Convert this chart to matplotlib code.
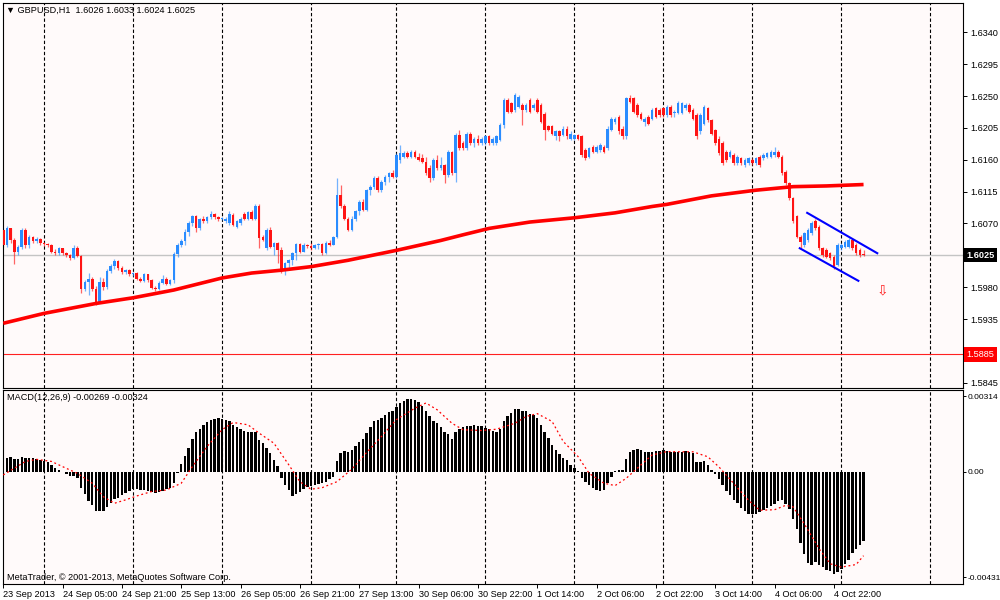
import matplotlib
matplotlib.use("Agg")
import matplotlib.pyplot as plt
import numpy as np

# GBPUSD H1 candles
opens = [
    1.6061, 1.6039, 1.6063, 1.6046, 1.6030, 1.6037, 1.6061, 1.6039, 1.6051, 1.6045,
    1.6048, 1.6042, 1.6041, 1.6040, 1.6030, 1.6028, 1.6035, 1.6028, 1.6025, 1.6021,
    1.6036, 1.6024, 1.5978, 1.5987, 1.5992, 1.5978, 1.5958, 1.5988, 1.5980, 1.6003,
    1.6010, 1.6017, 1.6007, 1.6001, 1.6004, 1.5998, 1.6000, 1.5992, 1.5989, 1.5998,
    1.5990, 1.5979, 1.5977, 1.5986, 1.5992, 1.5985, 1.5990, 1.6027, 1.6040, 1.6045,
    1.6058, 1.6070, 1.6080, 1.6063, 1.6076, 1.6073, 1.6079, 1.6083, 1.6079, 1.6076,
    1.6073, 1.6070, 1.6082, 1.6065, 1.6070, 1.6083, 1.6077, 1.6086, 1.6077, 1.6095,
    1.6051, 1.6035, 1.6061, 1.6037, 1.6042, 1.6033, 1.6004, 1.6014, 1.6018, 1.6028,
    1.6041, 1.6030, 1.6040, 1.6038, 1.6035, 1.6040, 1.6041, 1.6028, 1.6043, 1.6040,
    1.6051, 1.6110, 1.6094, 1.6077, 1.6061, 1.6077, 1.6087, 1.6101, 1.6089, 1.6117,
    1.6122, 1.6134, 1.6117, 1.6129, 1.6136, 1.6141, 1.6136, 1.6160, 1.6164, 1.6169,
    1.6164, 1.6171, 1.6164, 1.6163, 1.6157, 1.6148, 1.6134, 1.6160, 1.6148, 1.6152,
    1.6138, 1.6171, 1.6141, 1.6195, 1.6183, 1.6176, 1.6197, 1.6183, 1.6190, 1.6183,
    1.6184, 1.6193, 1.6183, 1.6184, 1.6188, 1.6209, 1.6244, 1.6240, 1.6230, 1.6235,
    1.6237, 1.6230, 1.6244, 1.6233, 1.6244, 1.6237, 1.6225, 1.6207, 1.6207, 1.6193,
    1.6200, 1.6195, 1.6204, 1.6190, 1.6190, 1.6195, 1.6193, 1.6174, 1.6164, 1.6178,
    1.6171, 1.6174, 1.6178, 1.6176, 1.6202, 1.6214, 1.6221, 1.6204, 1.6193, 1.6247,
    1.6247, 1.6237, 1.6225, 1.6214, 1.6221, 1.6218,
    1.6233, 1.6230, 1.6233, 1.6223, 1.6235, 1.6226, 1.6226, 1.6226, 1.6233, 1.6237,
    1.6230, 1.6223, 1.6200, 1.6211, 1.6233, 1.6216, 1.6202, 1.6190, 1.6183, 1.6171,
    1.6164, 1.6167, 1.6155, 1.6162, 1.6153, 1.6155, 1.6160, 1.6155, 1.6164, 1.6162,
    1.6164, 1.6164, 1.6167, 1.6171, 1.6164, 1.6143, 1.6127, 1.6106, 1.6080, 1.6051,
    1.6040, 1.6047, 1.6056, 1.6073, 1.6065, 1.6035, 1.6033, 1.6028, 1.6023, 1.6012,
    1.6035, 1.6037, 1.6037, 1.6047, 1.6040, 1.6033, 1.6026,
]
highs = [
    1.6063, 1.6066, 1.6064, 1.6050, 1.6040, 1.6064, 1.6063, 1.6054, 1.6053, 1.6051,
    1.6049, 1.6044, 1.6043, 1.6041, 1.6034, 1.6037, 1.6036, 1.6030, 1.6027, 1.6039,
    1.6038, 1.6026, 1.5990, 1.6000, 1.5994, 1.5982, 1.5995, 1.5993, 1.6006, 1.6013,
    1.6020, 1.6019, 1.6010, 1.6006, 1.6005, 1.6002, 1.6001, 1.5994, 1.6000, 1.5999,
    1.5991, 1.5982, 1.5989, 1.5997, 1.5994, 1.5992, 1.6030, 1.6042, 1.6048, 1.6062,
    1.6073, 1.6082, 1.6082, 1.6078, 1.6080, 1.6081, 1.6088, 1.6085, 1.6080, 1.6079,
    1.6079, 1.6087, 1.6085, 1.6075, 1.6079, 1.6086, 1.6088, 1.6089, 1.6097, 1.6098,
    1.6054, 1.6063, 1.6065, 1.6044, 1.6044, 1.6037, 1.6016, 1.6020, 1.6030, 1.6043,
    1.6043, 1.6042, 1.6041, 1.6042, 1.6041, 1.6043, 1.6042, 1.6045, 1.6047, 1.6053,
    1.6134, 1.6124, 1.6098, 1.6079, 1.6080, 1.6089, 1.6103, 1.6104, 1.6119, 1.6124,
    1.6137, 1.6137, 1.6131, 1.6138, 1.6143, 1.6146, 1.6170, 1.6181, 1.6172, 1.6172,
    1.6174, 1.6174, 1.6169, 1.6168, 1.6164, 1.6152, 1.6162, 1.6166, 1.6164, 1.6154,
    1.6174, 1.6173, 1.6198, 1.6202, 1.6186, 1.6199, 1.6199, 1.6192, 1.6195, 1.6192,
    1.6195, 1.6195, 1.6192, 1.6195, 1.6212, 1.6247, 1.6247, 1.6242, 1.6254, 1.6251,
    1.6240, 1.6240, 1.6247, 1.6240, 1.6247, 1.6240, 1.6228, 1.6209, 1.6209, 1.6202,
    1.6202, 1.6207, 1.6207, 1.6200, 1.6197, 1.6197, 1.6195, 1.6176, 1.6178, 1.6181,
    1.6181, 1.6183, 1.6181, 1.6207, 1.6221, 1.6221, 1.6223, 1.6207, 1.6249, 1.6251,
    1.6249, 1.6240, 1.6228, 1.6221, 1.6223, 1.6233,
    1.6235, 1.6233, 1.6235, 1.6237, 1.6238, 1.6230, 1.6243, 1.6242, 1.6240, 1.6240,
    1.6233, 1.6226, 1.6226, 1.6237, 1.6235, 1.6218, 1.6204, 1.6193, 1.6186, 1.6174,
    1.6174, 1.6169, 1.6167, 1.6164, 1.6162, 1.6164, 1.6162, 1.6164, 1.6167, 1.6169,
    1.6171, 1.6174, 1.6178, 1.6174, 1.6167, 1.6146, 1.6129, 1.6108, 1.6082, 1.6054,
    1.6058, 1.6063, 1.6073, 1.6077, 1.6068, 1.6037, 1.6035, 1.6030, 1.6025, 1.6042,
    1.6042, 1.6047, 1.6049, 1.6049, 1.6042, 1.6035, 1.6033,
]
lows = [
    1.6037, 1.6037, 1.6042, 1.6013, 1.6026, 1.6034, 1.6035, 1.6036, 1.6042, 1.6043,
    1.6040, 1.6038, 1.6037, 1.6028, 1.6025, 1.6026, 1.6026, 1.6023, 1.6019, 1.6020,
    1.6022, 1.5972, 1.5975, 1.5969, 1.5974, 1.5955, 1.5957, 1.5976, 1.5978, 1.6000,
    1.6005, 1.6004, 1.5998, 1.5998, 1.5996, 1.5996, 1.5990, 1.5987, 1.5988, 1.5988,
    1.5977, 1.5975, 1.5976, 1.5985, 1.5983, 1.5983, 1.5986, 1.6022, 1.6037, 1.6040,
    1.6052, 1.6066, 1.6058, 1.6061, 1.6071, 1.6071, 1.6076, 1.6077, 1.6074, 1.6075,
    1.6071, 1.6068, 1.6066, 1.6063, 1.6068, 1.6075, 1.6075, 1.6075, 1.6075, 1.6035,
    1.6045, 1.6033, 1.6035, 1.6025, 1.6014, 1.6000, 1.5997, 1.6007, 1.6011, 1.6019,
    1.6028, 1.6029, 1.6035, 1.6033, 1.6034, 1.6034, 1.6026, 1.6027, 1.6038, 1.6039,
    1.6049, 1.6092, 1.6075, 1.6059, 1.6059, 1.6073, 1.6082, 1.6087, 1.6087, 1.6110,
    1.6118, 1.6115, 1.6115, 1.6125, 1.6129, 1.6134, 1.6134, 1.6155, 1.6162, 1.6162,
    1.6162, 1.6162, 1.6158, 1.6155, 1.6139, 1.6129, 1.6132, 1.6146, 1.6146, 1.6127,
    1.6136, 1.6139, 1.6129, 1.6174, 1.6174, 1.6174, 1.6181, 1.6178, 1.6181, 1.6181,
    1.6181, 1.6181, 1.6181, 1.6181, 1.6186, 1.6205, 1.6226, 1.6226, 1.6228, 1.6233,
    1.6209, 1.6228, 1.6226, 1.6230, 1.6226, 1.6212, 1.6188, 1.6200, 1.6195, 1.6188,
    1.6186, 1.6193, 1.6190, 1.6188, 1.6188, 1.6188, 1.6164, 1.6160, 1.6162, 1.6169,
    1.6169, 1.6171, 1.6169, 1.6174, 1.6200, 1.6211, 1.6197, 1.6190, 1.6190, 1.6240,
    1.6226, 1.6221, 1.6216, 1.6207, 1.6209, 1.6216,
    1.6219, 1.6221, 1.6221, 1.6221, 1.6221, 1.6221, 1.6224, 1.6224, 1.6230, 1.6226,
    1.6216, 1.6190, 1.6197, 1.6209, 1.6214, 1.6195, 1.6181, 1.6167, 1.6153, 1.6157,
    1.6162, 1.6153, 1.6153, 1.6153, 1.6150, 1.6153, 1.6153, 1.6153, 1.6150, 1.6160,
    1.6162, 1.6162, 1.6164, 1.6162, 1.6138, 1.6124, 1.6103, 1.6070, 1.6049, 1.6035,
    1.6037, 1.6044, 1.6054, 1.6061, 1.6033, 1.6023, 1.6021, 1.6018, 1.6005, 1.6010,
    1.6033, 1.6035, 1.6035, 1.6033, 1.6026, 1.6023, 1.6024,
]
closes = [
    1.6039, 1.6063, 1.6046, 1.6030, 1.6037, 1.6061, 1.6039, 1.6051, 1.6045, 1.6048,
    1.6042, 1.6041, 1.6040, 1.6030, 1.6028, 1.6035, 1.6028, 1.6025, 1.6021, 1.6036,
    1.6024, 1.5978, 1.5987, 1.5992, 1.5978, 1.5958, 1.5988, 1.5980, 1.6003, 1.6010,
    1.6017, 1.6007, 1.6001, 1.6004, 1.5998, 1.6000, 1.5992, 1.5989, 1.5998, 1.5990,
    1.5979, 1.5977, 1.5986, 1.5992, 1.5985, 1.5990, 1.6027, 1.6040, 1.6045, 1.6058,
    1.6070, 1.6080, 1.6063, 1.6076, 1.6073, 1.6079, 1.6083, 1.6079, 1.6076, 1.6077,
    1.6077, 1.6084, 1.6068, 1.6073, 1.6077, 1.6077, 1.6086, 1.6077, 1.6095, 1.6049,
    1.6047, 1.6061, 1.6037, 1.6042, 1.6033, 1.6004, 1.6014, 1.6018, 1.6028, 1.6041,
    1.6030, 1.6040, 1.6038, 1.6035, 1.6040, 1.6041, 1.6028, 1.6043, 1.6040, 1.6051,
    1.6110, 1.6094, 1.6077, 1.6061, 1.6077, 1.6087, 1.6101, 1.6089, 1.6117, 1.6122,
    1.6134, 1.6117, 1.6129, 1.6136, 1.6141, 1.6136, 1.6167, 1.6169, 1.6169, 1.6164,
    1.6171, 1.6164, 1.6160, 1.6157, 1.6141, 1.6134, 1.6160, 1.6148, 1.6152, 1.6138,
    1.6171, 1.6141, 1.6195, 1.6176, 1.6176, 1.6197, 1.6183, 1.6190, 1.6183, 1.6190,
    1.6193, 1.6183, 1.6190, 1.6193, 1.6209, 1.6244, 1.6228, 1.6228, 1.6251, 1.6249,
    1.6230, 1.6237, 1.6228, 1.6237, 1.6228, 1.6214, 1.6202, 1.6202, 1.6197, 1.6200,
    1.6193, 1.6204, 1.6193, 1.6197, 1.6195, 1.6190, 1.6167, 1.6162, 1.6176, 1.6171,
    1.6178, 1.6181, 1.6171, 1.6204, 1.6218, 1.6218, 1.6200, 1.6193, 1.6247, 1.6242,
    1.6228, 1.6223, 1.6218, 1.6218, 1.6211, 1.6230,
    1.6221, 1.6223, 1.6223, 1.6235, 1.6223, 1.6228, 1.6240, 1.6240, 1.6237, 1.6228,
    1.6218, 1.6193, 1.6223, 1.6235, 1.6216, 1.6197, 1.6183, 1.6169, 1.6155, 1.6160,
    1.6171, 1.6155, 1.6164, 1.6155, 1.6160, 1.6162, 1.6155, 1.6162, 1.6153, 1.6167,
    1.6169, 1.6171, 1.6171, 1.6164, 1.6141, 1.6127, 1.6106, 1.6073, 1.6051, 1.6044,
    1.6056, 1.6061, 1.6070, 1.6063, 1.6035, 1.6025, 1.6023, 1.6021, 1.6010, 1.6040,
    1.6040, 1.6044, 1.6047, 1.6035, 1.6028, 1.6025, 1.6025,
]

# moving average (red thick line), sampled along the bars
ma_bars = [0, 11, 25, 35, 46, 59, 67, 75, 83, 93, 106, 118, 124, 131, 142,
           154, 165, 175, 179, 191, 203, 213, 222, 232]
ma_vals = [1.5929, 1.5943, 1.5957, 1.5965, 1.5976, 1.5993, 1.6000, 1.6004,
           1.6009, 1.6018, 1.6032, 1.6046, 1.6054, 1.6063, 1.6072, 1.6078,
           1.6085, 1.6094, 1.6097, 1.6109, 1.6117, 1.6122, 1.6123, 1.6125]

# MACD(12,26,9) histogram, one value per bar
macd_hist = [
    0.00032, 0.00051, 0.00055, 0.00047, 0.00047, 0.00055, 0.00054, 0.00053, 0.00053, 0.00049,
    0.00045, 0.00042, 0.00035, 0.00026, 0.00013, 0.00007, -0.00003, -0.00009, -0.00019, -0.00017,
    -0.00026, -0.00064, -0.00086, -0.00112, -0.00129, -0.00151, -0.00151, -0.00151, -0.00135, -0.00120,
    -0.00107, -0.00100, -0.00091, -0.00081, -0.00073, -0.00068, -0.00068, -0.00071, -0.00071, -0.00073,
    -0.00077, -0.00081, -0.00077, -0.00073, -0.00068, -0.00064, -0.00045, -0.00007, 0.00028, 0.00058,
    0.00090, 0.00125, 0.00151, 0.00163, 0.00180, 0.00189, 0.00197, 0.00203, 0.00205, 0.00201,
    0.00197, 0.00193, 0.00181, 0.00170, 0.00164, 0.00158, 0.00154, 0.00154, 0.00151, 0.00122,
    0.00109, 0.00090, 0.00071, 0.00045, 0.00022, -0.00026, -0.00051, -0.00071, -0.00094, -0.00086,
    -0.00077, -0.00067, -0.00058, -0.00054, -0.00051, -0.00047, -0.00045, -0.00039, -0.00030, -0.00022,
    0.00042, 0.00073, 0.00080, 0.00074, 0.00084, 0.00097, 0.00112, 0.00125, 0.00148, 0.00170,
    0.00193, 0.00200, 0.00206, 0.00219, 0.00229, 0.00234, 0.00248, 0.00264, 0.00273, 0.00279,
    0.00281, 0.00277, 0.00266, 0.00254, 0.00235, 0.00212, 0.00193, 0.00186, 0.00170, 0.00151,
    0.00144, 0.00125, 0.00154, 0.00163, 0.00171, 0.00176, 0.00176, 0.00179, 0.00174, 0.00176,
    0.00167, 0.00163, 0.00157, 0.00151, 0.00163, 0.00193, 0.00215, 0.00225, 0.00240, 0.00240,
    0.00234, 0.00232, 0.00221, 0.00216, 0.00206, 0.00180, 0.00151, 0.00129, 0.00103, 0.00084,
    0.00068, 0.00054, 0.00045, 0.00026, 0.00013, 0.00003, -0.00026, -0.00039, -0.00051, -0.00064,
    -0.00071, -0.00073, -0.00071, -0.00045, -0.00022, 0.00004, 0.00007, 0.00007, 0.00047, 0.00077,
    0.00084, 0.00086, 0.00084, 0.00077, 0.00077, 0.00077, 0.00080, 0.00081, 0.00082, 0.00080,
    0.00076, 0.00076, 0.00076, 0.00076, 0.00078, 0.00076, 0.00072, 0.00037, 0.00037, 0.00041,
    0.00027, 0.00005, -0.00008, -0.00027, -0.00053, -0.00074, -0.00091, -0.00108, -0.00121, -0.00139,
    -0.00152, -0.00165, -0.00165, -0.00162, -0.00156, -0.00147, -0.00139, -0.00134, -0.00124, -0.00115,
    -0.00111, -0.00124, -0.00143, -0.00181, -0.00220, -0.00275, -0.00319, -0.00352, -0.00358, -0.00349,
    -0.00358, -0.00368, -0.00378, -0.00381, -0.00394, -0.00387, -0.00374, -0.00355, -0.00340, -0.00314,
    -0.00297, -0.00284, -0.00269,
]
# signal line (red dotted), sampled
sig_bars = [0, 3, 6, 9, 13, 16, 20, 24, 27, 30, 33, 36, 40, 44, 48, 51, 55, 59,
            62, 66, 69, 73, 77, 80, 83, 86, 90, 94, 97, 102, 106, 111, 114, 117,
            121, 124, 129, 133, 138, 141, 144, 148, 151, 155, 158, 162, 165, 168,
            172, 175, 179, 183, 186, 190, 193, 197, 201, 204, 208, 211, 213, 216,
            220, 223, 226, 230, 232]
sig_vals = [-0.00013, 0.00013, 0.00039, 0.00047, 0.00039, 0.00019, -0.00007,
            -0.00045, -0.00097, -0.00122, -0.00109, -0.00094, -0.00077, -0.00071,
            -0.00045, 0.00019, 0.00097, 0.00161, 0.00189, 0.00180, 0.00148,
            0.00109, 0.00026, -0.00039, -0.00068, -0.00062, -0.00039, 0.00009,
            0.00058, 0.00135, 0.00200, 0.00244, 0.00264, 0.00238, 0.00186,
            0.00161, 0.00158, 0.00163, 0.00186, 0.00212, 0.00223, 0.00193,
            0.00116, 0.00058, -0.00007, -0.00045, -0.00054, -0.00026, 0.00026,
            0.00064, 0.00077, 0.00076, 0.00076, 0.00057, 0.00018, -0.00046,
            -0.00111, -0.00149, -0.00147, -0.00130, -0.00136, -0.00201, -0.00297,
            -0.00355, -0.00368, -0.00358, -0.00324]

date_labels = ["23 Sep 2013", "24 Sep 05:00", "24 Sep 21:00", "25 Sep 13:00",
               "26 Sep 05:00", "26 Sep 21:00", "27 Sep 13:00", "30 Sep 06:00",
               "30 Sep 22:00", "1 Oct 14:00", "2 Oct 06:00", "2 Oct 22:00",
               "3 Oct 14:00", "4 Oct 06:00", "4 Oct 22:00"]
label_step = 16
day_breaks = [11, 35, 59, 83, 106, 130, 154, 178, 202, 226, 250]
# 1.6025 and 1.5890 sit under the price boxes, so they carry no label
price_ticks = [1.6340, 1.6295, 1.6250, 1.6205, 1.6160, 1.6115, 1.6070,
               1.5980, 1.5935, 1.5845]
support_level = 1.5885
channel_upper = ([216.8, 235.7], [1.6085, 1.6028])
channel_lower = ([214.8, 230.6], [1.6035, 1.5989])
arrow_pos = (237.1, 1.5975)
macd_lim = (-0.00431, 0.00314)
price_lim = (1.58376, 1.63814)

plt.rcParams['font.family'] = ['Liberation Sans', 'DejaVu Sans']
FS = 6.6
BULL, BEAR = "#2a8cff", "#ff1414"
BG = "#fffafa"

W, H = 1000, 600


def px_box(x0, y0, x1, y1):
    return [x0 / W, 1 - y1 / H, (x1 - x0) / W, (y1 - y0) / H]


fig = plt.figure(figsize=(10, 6), dpi=100)
fig.patch.set_facecolor("white")
ax = fig.add_axes(px_box(2.5, 3, 963.3, 388))
ax2 = fig.add_axes(px_box(2.5, 390, 963.3, 583.5), sharex=ax)

o = np.array(opens); h = np.array(highs); l = np.array(lows); c = np.array(closes)
x = np.arange(len(c))
cols = np.where(c >= o, BULL, BEAR)

for a in (ax, ax2):
    a.set_facecolor(BG)
    for s in a.spines.values():
        s.set_color("black"); s.set_linewidth(0.8)
    for b in day_breaks:
        a.axvline(b, color="black", lw=0.8, ls=(0, (3, 2)), zorder=1)

# price window
ax.axhline(c[-1], color="#c4c4c4", lw=1.0, zorder=1)
ax.axhline(support_level, color="#ff2020", lw=0.8, zorder=1)
ax.vlines(x, l, h, colors=cols, lw=0.9, alpha=0.65, zorder=2)
ax.bar(x, np.maximum(np.abs(c - o), 0.00012), bottom=np.minimum(o, c),
       width=0.7, color=cols, linewidth=0, zorder=3)
ax.plot(ma_bars, ma_vals, color="#ff0000", lw=2.6, zorder=4,
        solid_capstyle="butt", solid_joinstyle="round")
ax.plot(*channel_upper, color="#0000ff", lw=1.5, zorder=5)
ax.plot(*channel_lower, color="#0000ff", lw=1.5, zorder=5)
ax.text(*arrow_pos, "\u21e9", color="#ff2020", fontsize=10, ha="center",
        va="center", family=["DejaVu Sans"], zorder=5)

ax.set_ylim(*price_lim)
ax.set_xlim(-0.2, 258.9)
ax.yaxis.tick_right()
ax.set_yticks(price_ticks, [f"{p:.4f}" for p in price_ticks])
ax.tick_params(axis="y", length=3, pad=2, labelsize=FS, width=0.7)
ax.tick_params(axis="x", bottom=False, labelbottom=False)

ytr = ax.get_yaxis_transform()
ax.text(1.003, c[-1], f"{c[-1]:.4f}", transform=ytr, color="white",
        fontsize=FS, fontweight="bold", va="center", ha="left", zorder=10,
        clip_on=False, bbox=dict(boxstyle="square,pad=0.28", fc="black", ec="none"))
ax.text(1.003, support_level, f"{support_level:.4f}", transform=ytr, color="white",
        fontsize=FS, va="center", ha="left", zorder=10, clip_on=False,
        bbox=dict(boxstyle="square,pad=0.28", fc="#ff0000", ec="none"))

# MACD window
ax2.bar(x, macd_hist, width=0.66, color="black", linewidth=0, zorder=2)
ax2.plot(sig_bars, sig_vals, color="#ff0000", lw=0.9, ls=(0, (1.5, 2.2)), zorder=3)
lo, hi = macd_lim
ax2.set_ylim(lo, hi)
inset = 0.032 * (hi - lo)
ax2.yaxis.tick_right()
ax2.set_yticks([hi - inset, 0.0, lo + inset], [f"{hi:.5f}", "0.00", f"{lo:.5f}"])
ax2.tick_params(axis="y", length=2, pad=1, labelsize=6.0, width=0.7)

pos = np.arange(len(date_labels)) * label_step
ax2.set_xticks(pos, date_labels)
ax2.tick_params(axis="x", length=3, pad=1.5, labelsize=FS, width=0.7)
for t in ax2.get_xticklabels():
    t.set_horizontalalignment("left")

fig.text(6 / W, 1 - 10 / H,
         f"\u25bc GBPUSD,H1  {o[-1]:.4f} {h[-1]:.4f} {l[-1]:.4f} {c[-1]:.4f}",
         fontsize=FS, va="center", ha="left")
fig.text(7 / W, 1 - 398 / H, f"MACD(12,26,9) {macd_hist[-1]:.5f} {sig_vals[-1]:.5f}",
         fontsize=FS, va="center", ha="left")
fig.text(7 / W, 1 - 577 / H, "MetaTrader, \u00a9 2001-2013, MetaQuotes Software Corp.",
         fontsize=FS, va="center", ha="left")

fig.savefig("out.png", dpi=100)
